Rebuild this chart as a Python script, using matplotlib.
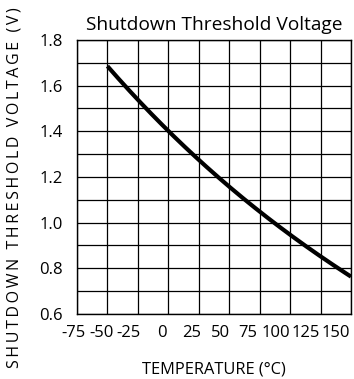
import numpy as np
import matplotlib
matplotlib.use("Agg")
import matplotlib.pyplot as plt
from matplotlib.transforms import ScaledTranslation

plt.rcParams['font.family'] = ['Open Sans', 'DejaVu Sans']

# threshold vs. temperature
temp_c = [-50, -25, 0, 25, 50, 75, 100, 125, 150]
v_shutdown = [1.685, 1.54, 1.40, 1.275, 1.155, 1.055, 0.945, 0.85, 0.765]

x_ticks = [-75, -50, -25, 0, 25, 50, 75, 100, 125, 150]
x_labels = ['-75', '-50', '-25', '0', '25', '50', '75', '100', '125', '150']
# labels sit a little left of their gridlines (pixels)
x_label_shift = [-3, -6, -9, -6, -7, -9, -12, -14, -15, -15]
y_ticks = [0.6, 0.8, 1.0, 1.2, 1.4, 1.6, 1.8]

fig = plt.figure(figsize=(3.54, 3.79), dpi=100)
ax = fig.add_axes([0.2175, 0.1715, 0.774, 0.723])

# smooth the measured points a bit
xs = np.linspace(temp_c[0], temp_c[-1], 200)
coef = np.polyfit(temp_c, v_shutdown, 3)
ax.plot(xs, np.polyval(coef, xs), color='black', lw=3.0, solid_capstyle='butt', zorder=3)

ax.set_xlim(-75, 150)
ax.set_ylim(0.6, 1.8)
ax.set_xticks(x_ticks)
ax.set_xticklabels(x_labels)
ax.set_yticks(y_ticks)
ax.set_yticklabels(['%.1f' % v for v in y_ticks])
ax.set_yticks(np.arange(0.7, 1.8, 0.2), minor=True)
ax.grid(True, which='both', color='black', lw=0.9)
ax.tick_params(which='both', length=0, labelsize=12)
ax.tick_params(axis='y', pad=10)
ax.tick_params(axis='x', pad=8)
for s in ax.spines.values():
    s.set_linewidth(1.0)

for lab, dx in zip(ax.get_xticklabels(), x_label_shift):
    lab.set_transform(lab.get_transform() + ScaledTranslation(dx / 100, 0, fig.dpi_scale_trans))

ax.set_title('Shutdown Threshold Voltage', fontsize=13.8, pad=7)
ax.set_xlabel('TEMPERATURE (°C)', fontsize=11.8, labelpad=15)

# spaced-out capitals on the y label
ylab = 'SHUTDOWN THRESHOLD VOLTAGE (V)'
fig.text(0.042, 0.505, '\u2009'.join(ylab), rotation=90,
         ha='center', va='center', fontsize=11.5)

fig.savefig('out.png', dpi=100)
